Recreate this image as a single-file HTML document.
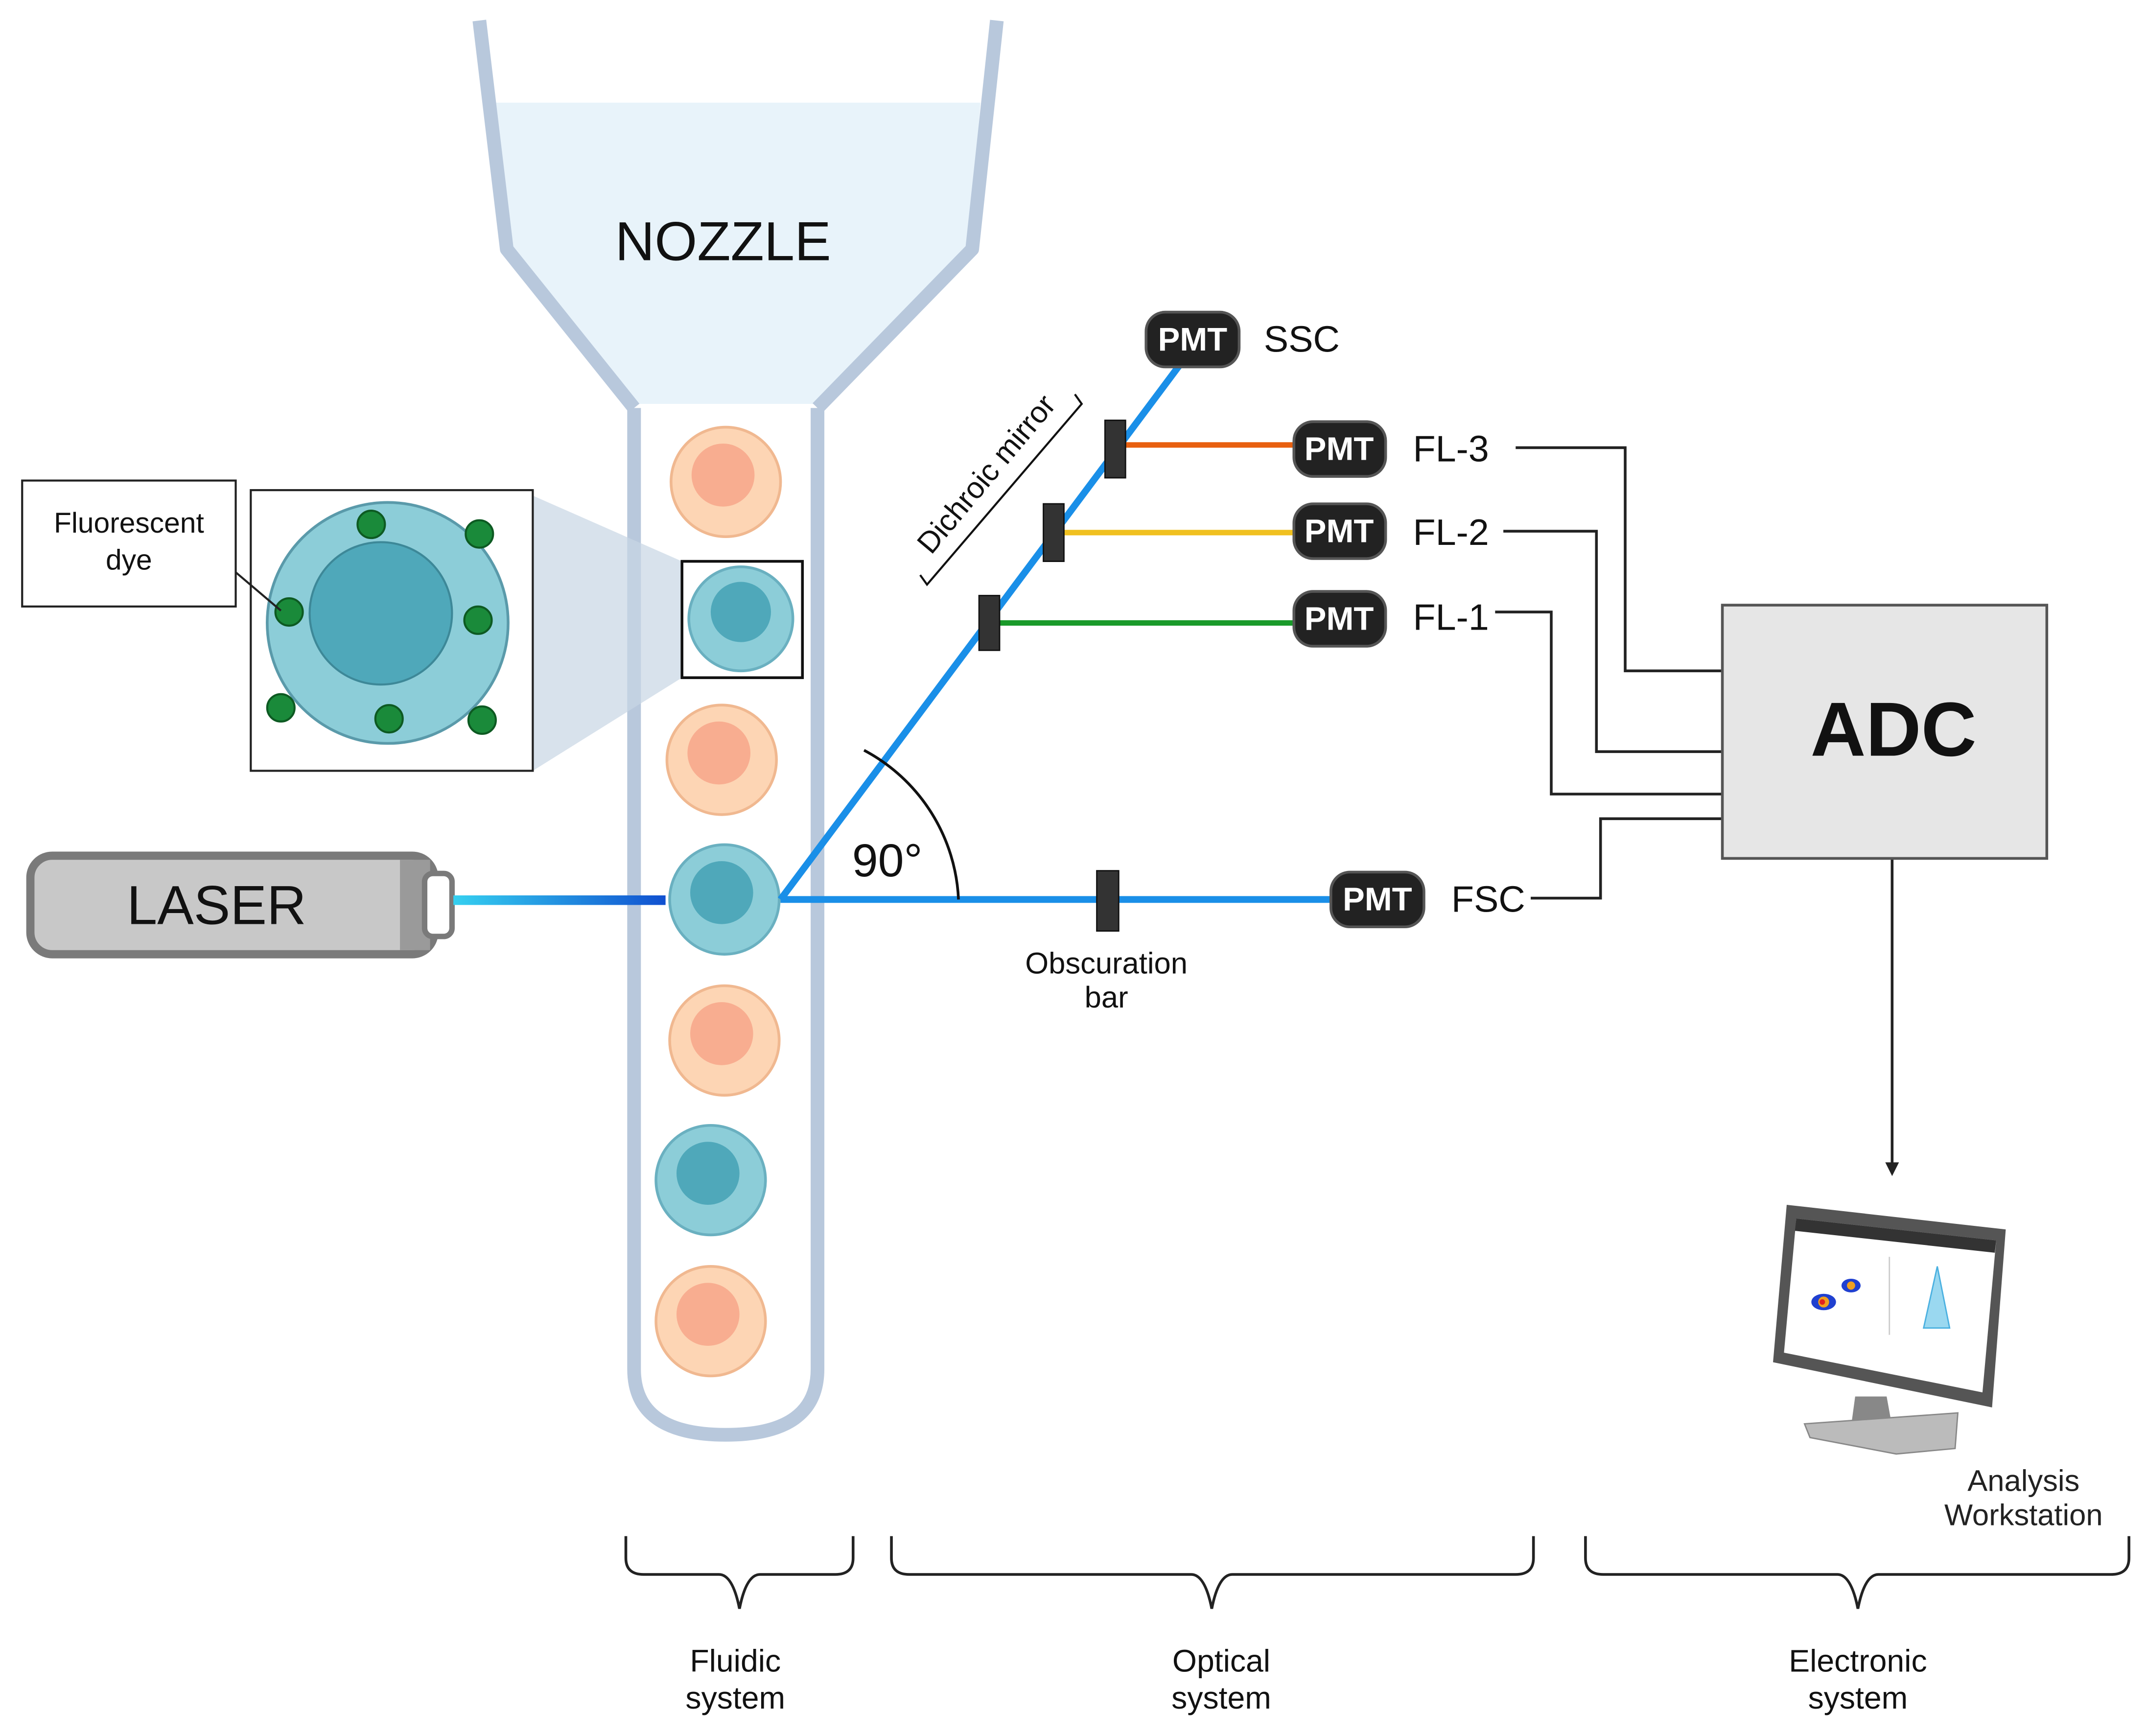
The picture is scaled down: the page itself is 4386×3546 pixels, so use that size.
<!DOCTYPE html>
<html><head><meta charset="utf-8">
<style>html,body{margin:0;padding:0;background:#fff}svg{display:block}</style>
</head><body>
<svg width="4386" height="3546" viewBox="0 0 1568 1268" xmlns="http://www.w3.org/2000/svg" font-family="'Liberation Sans', 'DejaVu Sans', sans-serif">
<defs>
<linearGradient id="lz" x1="0" x2="1"><stop offset="0" stop-color="#35d0f0"/><stop offset="1" stop-color="#1050d0"/></linearGradient>
</defs>
<rect width="1568" height="1268" fill="#fff"/>
<path d="M362,75 L716,75 L708,180 L600,295 L460,295 L372,180 Z" fill="#e8f3fa"/>
<path d="M350,15 L370,182 L463,298" fill="none" stroke="#b8c8dc" stroke-width="10" stroke-linejoin="round"/>
<path d="M728,15 L710,182 L597,298" fill="none" stroke="#b8c8dc" stroke-width="10" stroke-linejoin="round"/>
<path d="M463,298 L463,1000 Q463,1048 530,1048 Q597,1048 597,1000 L597,298" fill="#fff" stroke="#b8c8dc" stroke-width="10"/>
<text x="528" y="190" font-size="40" text-anchor="middle" fill="#111">NOZZLE</text>
<polygon points="389,362 498,410 498,495 389,563" fill="#c8d6e4" opacity="0.7"/>
<g stroke-width="2">
<circle cx="530" cy="352" r="40" fill="#fdd5b4" stroke="#f0b890"/><circle cx="528" cy="347" r="23" fill="#f8ad90"/>
<circle cx="541" cy="452" r="38" fill="#8ccdd8" stroke="#6ab0c0"/><circle cx="541" cy="447" r="22" fill="#4fa8ba"/>
<circle cx="527" cy="555" r="40" fill="#fdd5b4" stroke="#f0b890"/><circle cx="525" cy="550" r="23" fill="#f8ad90"/>
<circle cx="529" cy="657" r="40" fill="#8ccdd8" stroke="#6ab0c0"/><circle cx="527" cy="652" r="23" fill="#4fa8ba"/>
<circle cx="529" cy="760" r="40" fill="#fdd5b4" stroke="#f0b890"/><circle cx="527" cy="755" r="23" fill="#f8ad90"/>
<circle cx="519" cy="862" r="40" fill="#8ccdd8" stroke="#6ab0c0"/><circle cx="517" cy="857" r="23" fill="#4fa8ba"/>
<circle cx="519" cy="965" r="40" fill="#fdd5b4" stroke="#f0b890"/><circle cx="517" cy="960" r="23" fill="#f8ad90"/>
</g>
<rect x="498" y="410" width="88" height="85" fill="none" stroke="#111" stroke-width="2"/>
<rect x="183" y="358" width="206" height="205" fill="#fff" stroke="#222" stroke-width="1.5"/>
<circle cx="283" cy="455" r="88" fill="#8ccdd8" stroke="#5a9aaa" stroke-width="2"/>
<circle cx="278" cy="448" r="52" fill="#4fa8ba" stroke="#3d8898" stroke-width="1.5"/>
<g fill="#1a8a3a" stroke="#0d5a22" stroke-width="1.5">
<circle cx="271" cy="383" r="10"/><circle cx="350" cy="390" r="10"/><circle cx="211" cy="447" r="10"/><circle cx="349" cy="453" r="10"/><circle cx="205" cy="517" r="10"/><circle cx="284" cy="525" r="10"/><circle cx="352" cy="526" r="10"/>
</g>
<rect x="16" y="351" width="156" height="92" fill="#fff" stroke="#222" stroke-width="1.5"/>
<text x="94" y="389" font-size="21" text-anchor="middle" fill="#111">Fluorescent</text>
<text x="94" y="416" font-size="21" text-anchor="middle" fill="#111">dye</text>
<line x1="172" y1="418" x2="205" y2="446" stroke="#222" stroke-width="1.5"/>
<rect x="22" y="625" width="295" height="72" rx="16" fill="#c8c8c8" stroke="#7a7a7a" stroke-width="6"/>
<rect x="292" y="628" width="22" height="66" fill="#9a9a9a"/>
<rect x="310" y="638" width="20" height="46" rx="6" fill="#fff" stroke="#7a7a7a" stroke-width="4"/>
<text x="158" y="675" font-size="40" text-anchor="middle" fill="#111">LASER</text>
<rect x="331" y="654" width="155" height="7" fill="url(#lz)"/>
<g stroke="#1a8fe8" stroke-width="5" fill="none">
<line x1="570" y1="657" x2="972" y2="657"/>
<line x1="570" y1="657" x2="865" y2="262"/>
</g>
<line x1="730" y1="455" x2="945" y2="455" stroke="#1a9a2a" stroke-width="4"/>
<line x1="776" y1="389" x2="945" y2="389" stroke="#f0c020" stroke-width="4"/>
<line x1="822" y1="325" x2="945" y2="325" stroke="#e86010" stroke-width="4"/>
<g fill="#333" stroke="#111" stroke-width="1">
<rect x="715" y="435" width="15" height="40"/><rect x="762" y="368" width="15" height="42"/><rect x="807" y="307" width="15" height="42"/><rect x="801" y="636" width="16" height="44"/>
</g>
<path d="M700,657 A130,130 0 0 0 631,548" fill="none" stroke="#111" stroke-width="2"/>
<text x="648" y="640" font-size="34" text-anchor="middle" fill="#111">90°</text>
<text x="808" y="711" font-size="22" text-anchor="middle" fill="#111">Obscuration</text>
<text x="808" y="736" font-size="22" text-anchor="middle" fill="#111">bar</text>
<path d="M672,420 L677,427 L790,295 L785,288" fill="none" stroke="#111" stroke-width="1.5"/>
<text transform="translate(726,351) rotate(-50)" font-size="22" text-anchor="middle" fill="#111">Dichroic mirror</text>
<g fill="#222" stroke="#555" stroke-width="2">
<rect x="837" y="228" width="68" height="40" rx="14"/><rect x="945" y="308" width="67" height="40" rx="14"/><rect x="945" y="368" width="67" height="40" rx="14"/><rect x="945" y="432" width="67" height="40" rx="14"/><rect x="972" y="637" width="68" height="40" rx="14"/>
</g>
<g fill="#fff" font-size="24" font-weight="bold" text-anchor="middle">
<text x="871" y="256">PMT</text><text x="978" y="336">PMT</text><text x="978" y="396">PMT</text><text x="978" y="460">PMT</text><text x="1006" y="665">PMT</text>
</g>
<g fill="#111" font-size="27">
<text x="923" y="257">SSC</text><text x="1032" y="337">FL-3</text><text x="1032" y="398">FL-2</text><text x="1032" y="460">FL-1</text><text x="1060" y="666">FSC</text>
</g>
<g fill="none" stroke="#222" stroke-width="2">
<polyline points="1107,327 1187,327 1187,490 1258,490"/>
<polyline points="1098,388 1166,388 1166,549 1258,549"/>
<polyline points="1092,447 1133,447 1133,580 1258,580"/>
<polyline points="1118,656 1169,656 1169,598 1258,598"/>
<line x1="1382" y1="627" x2="1382" y2="850"/>
</g>
<polygon points="1377,849 1387,849 1382,859" fill="#222"/>
<rect x="1258" y="442" width="237" height="185" fill="#e6e6e6" stroke="#555" stroke-width="2"/>
<text x="1383" y="552" font-size="56" font-weight="bold" text-anchor="middle" fill="#111">ADC</text>
<polygon points="1355,1020 1378,1020 1382,1042 1352,1042" fill="#888"/>
<polygon points="1318,1040 1430,1032 1428,1058 1385,1062 1322,1050" fill="#bbb" stroke="#888"/>
<polygon points="1305,880 1465,898 1455,1028 1295,995" fill="#555"/>
<polygon points="1312,890 1458,906 1448,1017 1303,988" fill="#fff"/>
<polygon points="1312,890 1458,906 1457,915 1311,899" fill="#333"/>
<ellipse cx="1332" cy="951" rx="9" ry="6" fill="#2040d0"/><circle cx="1332" cy="951" r="4" fill="#f0a020"/><circle cx="1331" cy="951" r="2" fill="#e02020"/>
<ellipse cx="1352" cy="939" rx="7" ry="5" fill="#2040d0"/><circle cx="1352" cy="939" r="3" fill="#f0a020"/>
<path d="M1405,970 L1415,925 L1424,970 Z" fill="#9ad8f0" stroke="#4ab0e0"/>
<line x1="1380" y1="918" x2="1380" y2="975" stroke="#ccc"/>
<text x="1478" y="1089" font-size="22" text-anchor="middle" fill="#222">Analysis</text>
<text x="1478" y="1114" font-size="22" text-anchor="middle" fill="#222">Workstation</text>
<g fill="none" stroke="#222" stroke-width="2">
<path d="M457,1122 L457,1138 Q457,1150 470,1150 L525,1150 Q535,1150 540,1175 Q545,1150 555,1150 L610,1150 Q623,1150 623,1138 L623,1122"/>
<path d="M651,1122 L651,1138 Q651,1150 664,1150 L870,1150 Q880,1150 885,1175 Q890,1150 900,1150 L1107,1150 Q1120,1150 1120,1138 L1120,1122"/>
<path d="M1158,1122 L1158,1138 Q1158,1150 1171,1150 L1342,1150 Q1352,1150 1357,1175 Q1362,1150 1372,1150 L1542,1150 Q1555,1150 1555,1138 L1555,1122"/>
</g>
<g fill="#111" font-size="23" text-anchor="middle">
<text x="537" y="1221">Fluidic</text><text x="537" y="1248">system</text>
<text x="892" y="1221">Optical</text><text x="892" y="1248">system</text>
<text x="1357" y="1221">Electronic</text><text x="1357" y="1248">system</text>
</g>
</svg>
</body></html>
